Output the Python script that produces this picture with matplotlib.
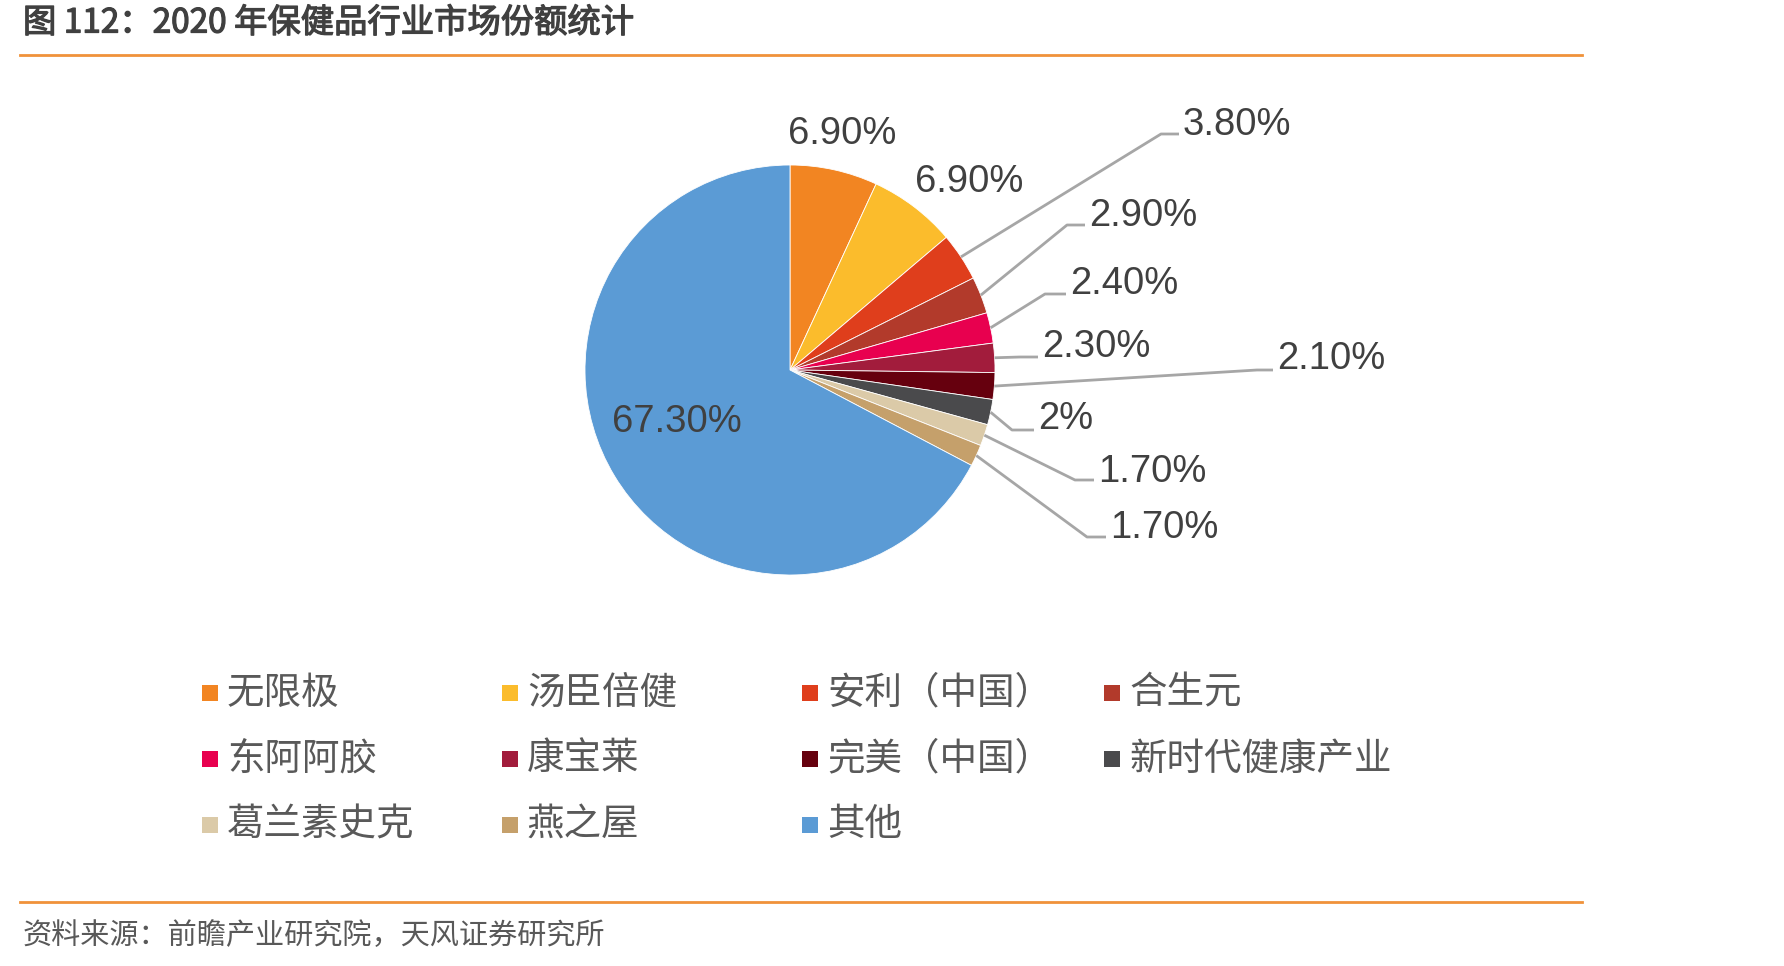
import matplotlib
matplotlib.use("Agg")
import matplotlib.pyplot as plt
import matplotlib.patches as patches
import matplotlib.patheffects as pe
import numpy as np

plt.rcParams['font.family'] = ['Liberation Sans', 'Noto Sans CJK SC', 'DejaVu Sans']

# 数据
companies = ['无限极', '汤臣倍健', '安利（中国）', '合生元', '东阿阿胶', '康宝莱',
             '完美（中国）', '新时代健康产业', '葛兰素史克', '燕之屋', '其他']
shares = [6.9, 6.9, 3.8, 2.9, 2.4, 2.3, 2.1, 2.0, 1.7, 1.7, 67.3]
labels = ['6.90%', '6.90%', '3.80%', '2.90%', '2.40%', '2.30%', '2.10%', '2%',
          '1.70%', '1.70%', '67.30%']
colors = ['#F28522', '#FBBC2C', '#DF3E1C', '#B23A2B', '#E8004F', '#A21C3C',
          '#66000E', '#4A4A4C', '#DBCAA8', '#C5A06B', '#5B9BD5']

W, H = 1784, 966
fig = plt.figure(figsize=(W / 100, H / 100), dpi=100)
ax = fig.add_axes([0, 0, 1, 1])


def fy(py):
    # 像素坐标(向下) -> 轴坐标(向上)
    return H - py


cjk = ['Noto Sans CJK SC', 'DejaVu Sans']

# 标题与分隔线
ax.text(23, fy(23), '图 112：2020 年保健品行业市场份额统计', fontsize=24,
        color='#404040', va='center', ha='left', family=cjk,
        path_effects=[pe.withStroke(linewidth=0.9, foreground='#404040')])
ax.plot([20, 1582], [fy(55), fy(55)], color='#F0923A', lw=2)
ax.plot([20, 1582], [fy(902), fy(902)], color='#F0923A', lw=2)
ax.text(23, fy(936), '资料来源：前瞻产业研究院，天风证券研究所', fontsize=21,
        color='#595959', va='center', ha='left', family=cjk)

# 饼图
cx, cy, R = 790, fy(370), 205
wedges, _ = ax.pie(shares, colors=colors, startangle=90, counterclock=False,
                   center=(cx, cy), radius=R, frame=True,
                   wedgeprops=dict(edgecolor='white', linewidth=0.6))

# 标签: (文字位置, 折线拐点) 像素坐标
label_pos = [
    ((842, 134), None),
    ((969, 182), None),
    ((1183, 125), (1161, 134)),
    ((1089, 216), (1067, 225)),
    ((1070, 284), (1045, 294)),
    ((1042, 347), (1020, 357)),
    ((1277, 359), (1257, 370)),
    ((1038, 419), (1012, 430)),
    ((1098, 472), (1075, 480)),
    ((1110, 528), (1087, 537)),
    ((677, 422), None),
]
txt_kw = dict(fontsize=27.5, color='#404040', va='center')
for w, lab, (tp, elbow) in zip(wedges, labels, label_pos):
    if elbow is None:
        ax.text(tp[0], fy(tp[1]), lab, ha='center', **txt_kw)
        continue
    ang = np.deg2rad((w.theta1 + w.theta2) / 2)
    ex, ey = cx + R * np.cos(ang), cy + R * np.sin(ang)
    ax.plot([ex, elbow[0], tp[0] - 4], [ey, fy(elbow[1]), fy(elbow[1])],
            color='#A6A6A6', lw=2, solid_capstyle='butt', zorder=1)
    ax.text(tp[0], fy(tp[1]), lab, ha='left', **txt_kw)

# 图例(按行排列)
col_x = [202, 502, 802, 1104]
row_y = [693, 759, 825]
for i, (name, c) in enumerate(zip(companies, colors)):
    x0 = col_x[i % 4]
    y0 = row_y[i // 4]
    ax.add_patch(patches.Rectangle((x0, fy(y0) - 8), 16, 16, facecolor=c,
                                   edgecolor='none'))
    ax.text(x0 + 25, fy(y0), name, fontsize=27, color='#595959', va='center',
            ha='left', family=cjk)

ax.set_xlim(0, W)
ax.set_ylim(0, H)
ax.set_aspect('equal')
ax.axis('off')

fig.savefig('out.png', dpi=100)
